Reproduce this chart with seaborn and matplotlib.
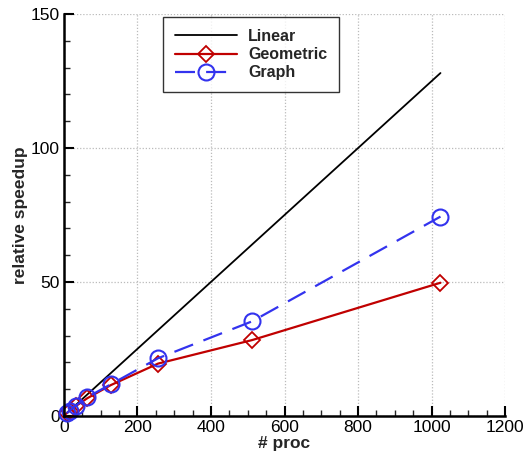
import matplotlib
matplotlib.use("Agg")
import matplotlib.pyplot as plt
import seaborn as sns
import pandas as pd
from matplotlib.ticker import MultipleLocator

sns.set_theme(style="white")
plt.rcParams['font.family'] = ['Liberation Sans', 'DejaVu Sans']

procs = [8, 16, 32, 64, 128, 256, 512, 1024]
linear = [1, 2, 4, 8, 16, 32, 64, 128]
geometric = [1.0, 1.9, 3.6, 6.6, 11.5, 19.5, 28.3, 49.7]
graph = [1.0, 2.0, 3.8, 7.0, 11.8, 21.5, 35.3, 74.4]

fig = plt.figure(figsize=(5.23, 4.55), dpi=100)
ax = fig.add_axes([0.122, 0.086, 0.844, 0.883])

sns.lineplot(x=procs, y=linear, ax=ax, color='black', linewidth=1.3, label='Linear')
sns.lineplot(x=procs, y=geometric, ax=ax, color='#c00000', linewidth=1.6,
             marker='D', markersize=8.5, markerfacecolor='none', markeredgecolor='#c00000',
             markeredgewidth=1.3, label='Geometric')
sns.lineplot(x=procs, y=graph, ax=ax, color='#3333ee', linewidth=1.6,
             marker='o', markersize=11.5, markerfacecolor='none', markeredgecolor='#3333ee',
             markeredgewidth=1.5, label='Graph')
ax.lines[2].set_dashes([9, 5])

ax.set_xlim(0, 1200)
ax.set_ylim(0, 150)
ax.xaxis.set_major_locator(MultipleLocator(200))
ax.xaxis.set_minor_locator(MultipleLocator(50))
ax.yaxis.set_major_locator(MultipleLocator(50))
ax.yaxis.set_minor_locator(MultipleLocator(10))
ax.tick_params(which='major', direction='in', length=7, width=1.5, labelsize=12.5,
               colors='black', pad=3, bottom=True, left=True)
ax.tick_params(which='minor', direction='in', length=4, width=1, bottom=True, left=True)
ax.grid(True, which='major', color='#bbbbbb', linestyle=(0, (1, 1.5)), linewidth=0.9)
for s in ['top', 'right']:
    ax.spines[s].set_visible(False)
for s in ['left', 'bottom']:
    ax.spines[s].set_color('black')
    ax.spines[s].set_linewidth(1.8)
ax.set_axisbelow(True)
for ln in ax.lines:
    ln.set_clip_on(False)

ax.set_xlabel('# proc', fontsize=12.5, fontweight='bold', labelpad=1)
ax.set_ylabel('relative speedup', fontsize=12.5, fontweight='bold', labelpad=2)

leg = ax.legend(loc='upper left', bbox_to_anchor=(0.224, 0.993),
                prop={'weight': 'bold', 'size': 11.5}, frameon=True, fancybox=False,
                edgecolor='black', handlelength=3.9, numpoints=1, borderpad=0.75,
                labelspacing=0.2, handletextpad=0.7, borderaxespad=0)
leg.get_frame().set_linewidth(1.0)

fig.savefig('out.png', dpi=100)
